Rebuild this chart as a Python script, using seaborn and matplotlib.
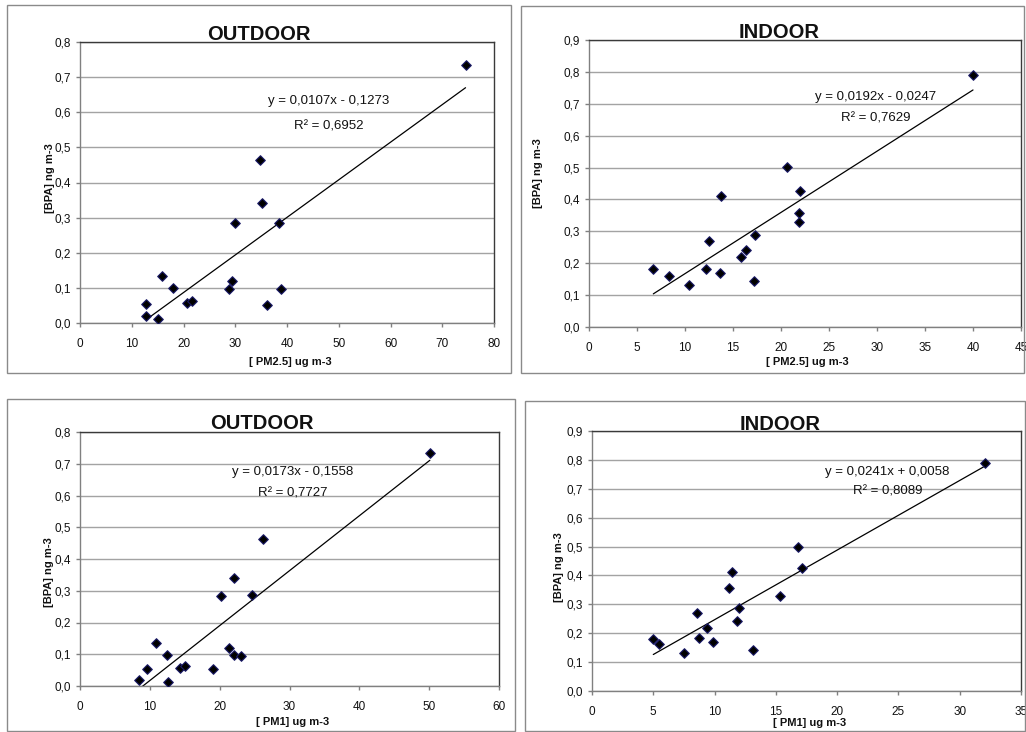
import numpy as np
import pandas as pd
import matplotlib
matplotlib.use("Agg")
import matplotlib.pyplot as plt
import seaborn as sns
from matplotlib.patches import Rectangle

sns.set_theme(style="white")
plt.rcParams['font.family'] = ['Liberation Sans', 'DejaVu Sans']

# ---- PM2.5, outdoor ----
pm25_out = [74.5, 34.8, 35.2, 30.0, 38.4, 15.9, 17.9, 29.4, 28.7, 38.9,
            12.8, 12.8, 15.0, 20.6, 21.7, 36.1]
bpa_pm25_out = [0.735, 0.463, 0.341, 0.286, 0.284, 0.135, 0.099, 0.120, 0.098, 0.096,
                0.053, 0.019, 0.011, 0.056, 0.063, 0.051]

# ---- PM2.5, indoor ----
pm25_in = [40.0, 20.6, 13.8, 22.0, 21.9, 21.9, 12.5, 17.3, 16.4, 15.8,
           6.7, 8.3, 10.4, 12.2, 13.6, 17.2]
bpa_pm25_in = [0.789, 0.501, 0.411, 0.427, 0.358, 0.330, 0.271, 0.289, 0.241, 0.220,
               0.182, 0.161, 0.132, 0.182, 0.170, 0.143]

# ---- PM1, outdoor ----
pm1_out = [50.1, 26.2, 22.0, 20.2, 24.6, 10.9, 12.4, 21.3, 22.0, 23.1,
           9.6, 8.4, 12.6, 14.3, 15.1, 19.1]
bpa_pm1_out = [0.735, 0.464, 0.341, 0.284, 0.287, 0.135, 0.099, 0.120, 0.099, 0.096,
               0.054, 0.019, 0.013, 0.056, 0.062, 0.052]

# ---- PM1, indoor ----
pm1_in = [32.1, 16.8, 11.4, 17.1, 11.2, 15.3, 8.6, 12.0, 11.8, 9.4,
          5.0, 5.5, 7.5, 8.7, 9.9, 13.1]
bpa_pm1_in = [0.789, 0.500, 0.411, 0.426, 0.355, 0.330, 0.270, 0.289, 0.241, 0.219,
              0.181, 0.161, 0.131, 0.184, 0.169, 0.143]

# Linear trend lines: slope, intercept, R²
fit_slopes = [0.0107, 0.0192, 0.0173, 0.0241]
fit_intercepts = [-0.1273, -0.0247, -0.1558, 0.0058]
fit_r2 = [0.6952, 0.7629, 0.7727, 0.8089]

titles = ["OUTDOOR", "INDOOR", "OUTDOOR", "INDOOR"]
x_labels = ["[ PM2.5] ug m-3", "[ PM2.5] ug m-3", "[ PM1] ug m-3", "[ PM1] ug m-3"]
y_label = "[BPA] ng m-3"
x_ticks = [list(range(0, 81, 10)), list(range(0, 46, 5)),
           list(range(0, 61, 10)), list(range(0, 36, 5))]
y_ticks = [np.arange(0, 0.81, 0.1), np.arange(0, 0.91, 0.1),
           np.arange(0, 0.81, 0.1), np.arange(0, 0.91, 0.1)]

W, H = 1026, 732
fig = plt.figure(figsize=(W / 100, H / 100), dpi=100)
fig.patch.set_facecolor("white")


def frac(l, t, r, b):
    return [l / W, 1 - b / H, (r - l) / W, (b - t) / H]


layout = [
    # box (px), axes (px), title (cx, baseline), eq pos (data), ylabel (axes), xlabel (axes)
    dict(box=(7, 5, 511, 373), axes=(80, 42, 494, 323), title=(259, 40),
         eq=(48.0, 0.631, 0.559), ylab=(-0.072, 0.516), xlab=(0.507, -0.139)),
    dict(box=(521, 6, 1024, 373), axes=(589, 40, 1021, 327), title=(779, 38),
         eq=(29.9, 0.721, 0.653), ylab=(-0.118, 0.537), xlab=(0.505, -0.122)),
    dict(box=(7, 399, 515, 731), axes=(80, 432, 499, 686), title=(262, 429),
         eq=(30.4, 0.675, 0.607), ylab=(-0.074, 0.449), xlab=(0.508, -0.142)),
    dict(box=(525, 401, 1025, 731), axes=(592, 431, 1021, 691), title=(780, 430),
         eq=(24.1, 0.758, 0.691), ylab=(-0.077, 0.477), xlab=(0.508, -0.123)),
]

series = [(pm25_out, bpa_pm25_out), (pm25_in, bpa_pm25_in),
          (pm1_out, bpa_pm1_out), (pm1_in, bpa_pm1_in)]

for i, (lay, (xv, yv)) in enumerate(zip(layout, series)):
    l, t, r, b = lay["box"]
    fig.patches.append(Rectangle((l / W, 1 - b / H), (r - l) / W, (b - t) / H,
                                 transform=fig.transFigure, fill=False,
                                 edgecolor="#8a8a8a", lw=1.0, zorder=0))

    ax = fig.add_axes(frac(*lay["axes"]))
    df = pd.DataFrame({"x": xv, "y": yv})
    sns.scatterplot(data=df, x="x", y="y", marker="D", s=24, color="black",
                    edgecolor="#1c1c6a", linewidth=0.8, ax=ax, zorder=3)

    xs = np.array([min(xv), max(xv)])
    fit = pd.DataFrame({"x": xs, "y": fit_slopes[i] * xs + fit_intercepts[i]})
    sns.lineplot(data=fit, x="x", y="y", color="black", lw=0.9, ax=ax, zorder=2)

    ax.set_xlim(0, x_ticks[i][-1])
    ax.set_ylim(0, y_ticks[i][-1])
    ax.set_xticks(x_ticks[i])
    ax.set_xticklabels([str(v) for v in x_ticks[i]])
    ax.set_yticks(y_ticks[i])
    ax.set_yticklabels([f"{v:.1f}".replace(".", ",") for v in y_ticks[i]])
    ax.yaxis.grid(True, color="#a3a3a3", lw=1.0)
    ax.xaxis.grid(False)
    ax.set_axisbelow(True)

    for side in ("left", "bottom"):
        ax.spines[side].set_color("#808080")
        ax.spines[side].set_linewidth(1.0)
    for side in ("top", "right"):
        ax.spines[side].set_color("#3a3a3a")
        ax.spines[side].set_linewidth(1.0)

    ax.tick_params(axis="both", bottom=True, left=True, direction="out", length=3,
                   width=1, color="#808080", labelsize=8.5, labelcolor="#111111")
    ax.tick_params(axis="x", pad=8)
    ax.tick_params(axis="y", pad=3.5)

    ax.set_xlabel(x_labels[i], fontsize=8, fontweight="bold", color="#111111",
                  va="center", ha="center")
    ax.xaxis.set_label_coords(*lay["xlab"])
    ax.set_ylabel(y_label, fontsize=8, fontweight="bold", color="#111111",
                  va="center", ha="center")
    ax.yaxis.set_label_coords(*lay["ylab"])

    sign = "-" if fit_intercepts[i] < 0 else "+"
    eq_text = f"y = {fit_slopes[i]:.4f}x {sign} {abs(fit_intercepts[i]):.4f}".replace(".", ",")
    r2_text = f"R² = {fit_r2[i]:.4f}".replace(".", ",")
    ex, ey, ry = lay["eq"]
    ax.text(ex, ey, eq_text, fontsize=9.5, ha="center", va="center", color="#111111")
    ax.text(ex, ry, r2_text, fontsize=9.5, ha="center", va="center", color="#111111")

    cx, base = lay["title"]
    fig.text(cx / W, 1 - base / H, titles[i], fontsize=14.5, fontweight="bold",
             ha="center", va="baseline", color="#111111")

fig.savefig("out.png", dpi=100, facecolor="white")
